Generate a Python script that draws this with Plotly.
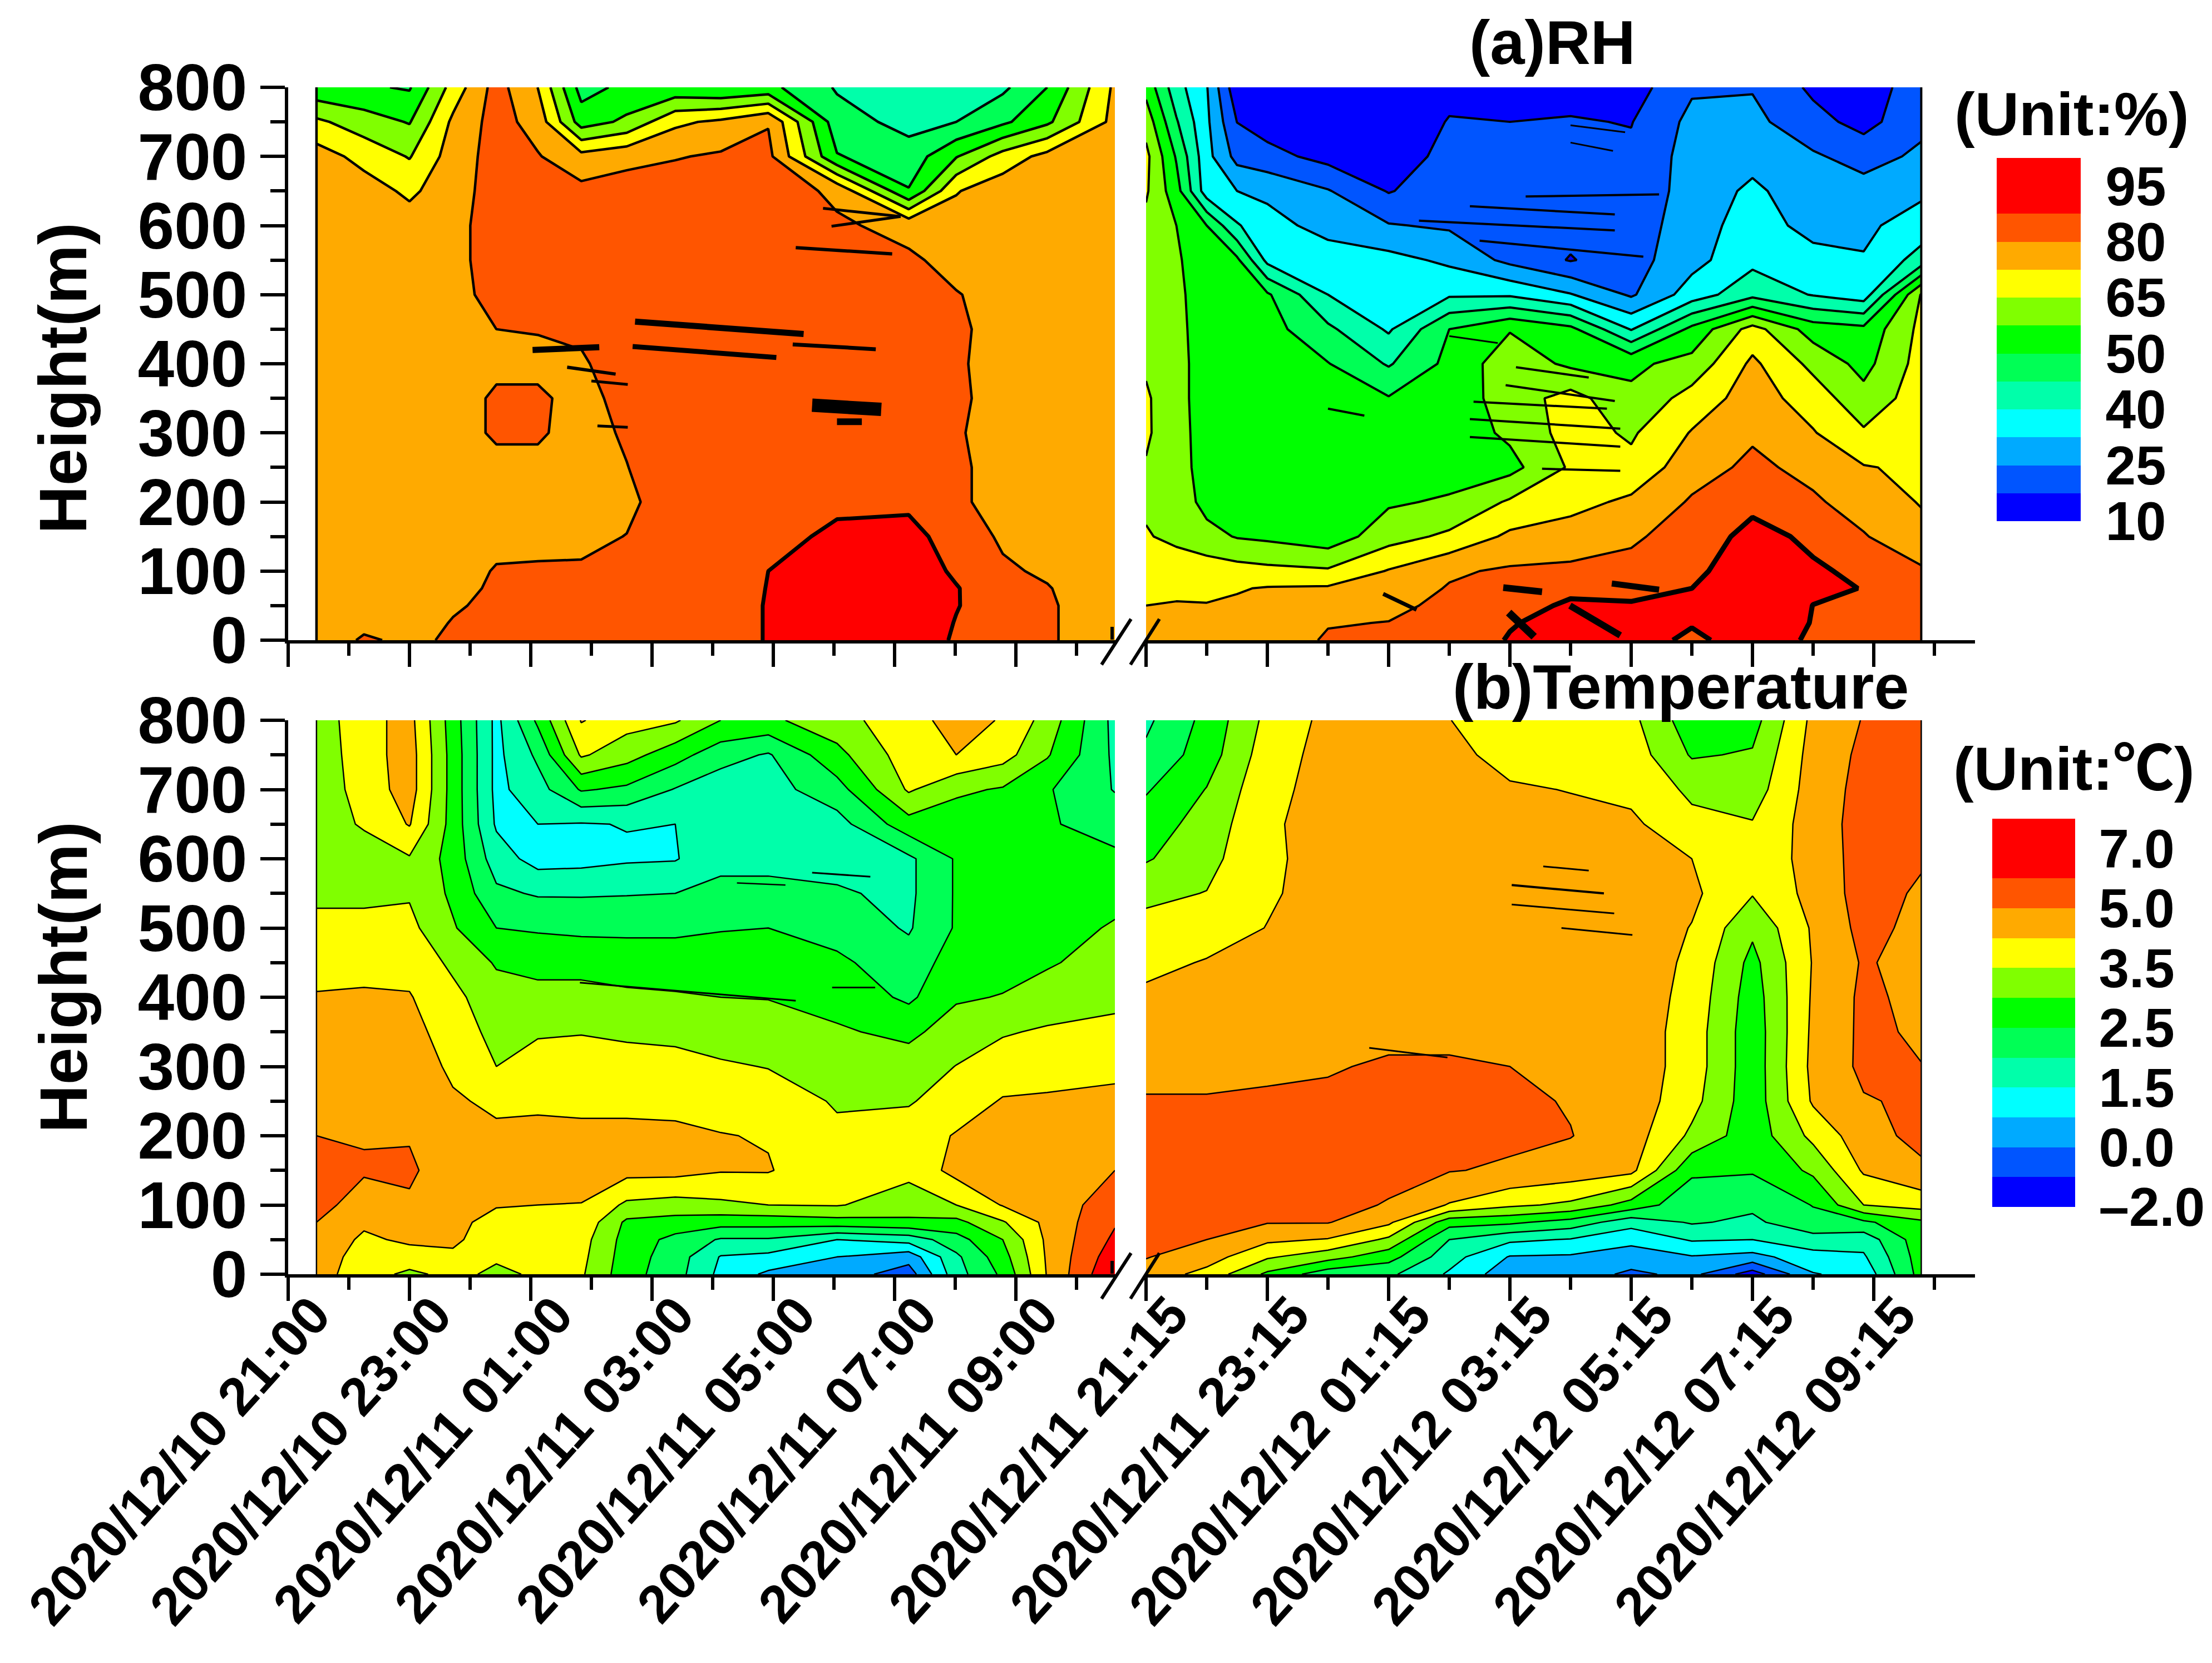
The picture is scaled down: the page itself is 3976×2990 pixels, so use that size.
import numpy as np
import pandas as pd
import plotly.graph_objects as go

W, H = 3976, 2990
FONT = "Liberation Sans, Noto Sans CJK SC"

heights = [0, 25, 50, 75, 100, 150, 200, 250, 300, 350, 400, 450, 500, 550, 600, 650, 700, 750, 800]

times_left = ["2020-12-10 21:28", "2020-12-10 22:15", "2020-12-10 23:00", "2020-12-10 23:43",
              "2020-12-11 00:26", "2020-12-11 01:07", "2020-12-11 01:50", "2020-12-11 02:35",
              "2020-12-11 03:23", "2020-12-11 04:08", "2020-12-11 04:55", "2020-12-11 06:03",
              "2020-12-11 07:14", "2020-12-11 08:01", "2020-12-11 08:47", "2020-12-11 09:31",
              "2020-12-11 10:38"]
times_right = ["2020-12-11 21:15", "2020-12-11 22:15", "2020-12-11 23:15", "2020-12-12 00:15",
               "2020-12-12 01:15", "2020-12-12 02:15", "2020-12-12 03:15", "2020-12-12 04:15",
               "2020-12-12 05:15", "2020-12-12 06:15", "2020-12-12 07:15", "2020-12-12 08:15",
               "2020-12-12 09:05", "2020-12-12 10:02"]
times_rh_right = ["2020-12-11 21:15", "2020-12-11 21:45", "2020-12-11 22:15", "2020-12-11 22:45",
                  "2020-12-11 23:15", "2020-12-12 00:15",
                  "2020-12-12 01:15", "2020-12-12 02:15", "2020-12-12 03:15", "2020-12-12 04:15",
                  "2020-12-12 05:15", "2020-12-12 06:15", "2020-12-12 07:15", "2020-12-12 08:15",
                  "2020-12-12 09:05", "2020-12-12 10:02"]

# one inner list per time, bottom (0 m) to top (800 m)
rh_left = [
    [75,75,75,75,75, 75,75,75,75,75, 75,75,75,75,75, 75,76,66.5,52],
    [81,78,77,77,77, 77,77,77,77,77, 77,77,77,77,77, 76,70,61,51],
    [78.5,76,76,76,76, 76,76,76,76,76, 76,76,76,76,76, 71,64.5,57,49.5],
    [81,80.5,79,77,77, 77,77,77,77,77, 77,78,78,78,78, 77,76,74,68],
    [83,83,82,81.5,80.5, 78,77,78,81,81, 78.5,80,82,83,83, 83,83,83,83],
    [84,84,84,83,80.8, 78,77,78,81,81, 78.5,80.3,82,83,83, 82,80.5,77,72.4],
    [85,85,84,83,81, 78,76,76,77,78, 79.3,81,83,84,84, 82,75,54,48],
    [86,85,85,84,83, 80.2,78,79.8,81,82, 83,84,84,85,85, 83,78,59,52],
    [86,86,86,85,85, 85,85,85,85,85, 85,85,85,85,85, 84,79.5,71,52],
    [86,86,86,86,86, 86,86,86,86,86, 86,86,86,86,86, 85,81,74,50],
    [87.7,87.7,87.7,87.6,87.5, 85,85,85,85,85, 85,85,85,85,85, 84,82,79.5,52],
    [95,95,95,94,93, 89,86,85,85,85, 85,85,85,84,81, 78.5,50.5,47,44.5],
    [95,95,95,94,93, 90,86,84,84,84, 84,84,83,81,78, 50.5,47,43.5,42],
    [86,87,88,88,86, 84,81,81,80.5,81, 80.7,81,80.3,78,76, 72,57,45,41],
    [83,83,82,81.5,81, 79,78,78,78,78, 78,78,78,77,77, 77,68,49,44],
    [81,81,81,80.4,79, 77,76,76,76,76, 76,76,76,76,76, 76,75,56,50],
    [75,75,75,75,75, 75,75,75,75,75, 75,75,75,75,74],
]
rh_left[-1] = [75,75,75,75,75, 75,75,75,75,75, 75,75,75,75,75, 75,75,75,74]
rh_right = [
    [76,74,72.5,71,69, 65.5,64,64.5,66,66, 64,61,60,61,63, 66,67,62,55],
    [75,74,73,71,68.5, 63.5,62,61,60.5,60, 60,59.5,59,58.5,57.5, 53,49.5,45.5,42],
    [73,73,72.8,71,69, 60,55,54,54,54, 54,54,54,53,50, 36,35,34,33],
    [74,74,73.5,72,68, 57,54.5,54,54,54, 54,54,53,51.5,40.5, 32.5,22.5,17.4,12],
    [75,75,74,73,67, 56,54,54,54,54, 53.5,53,51,38,35, 31,20,14,12],
    [81,79.5,77,73.5,66, 53,53,53,53,52.5, 50.3,46,40,36,30, 25.5,15,12,11],
    [82,80.2,78,76,73, 62,56.5,54,53,50.5, 44.5,39,37,35,25.5, 17,13,11,11],
    [83,83,82,80.5,79, 66.5,58.5,54,53,53, 52,50,39,31,24, 22,20,18,15],
    [88,87,85,83,81, 74,66,55,59,61, 62,57,39,23,20, 19,18,17.5,15],
    [92,90,88.5,86,81.5, 76,70,66,68,68, 56,52,33,17,20, 21,21,18,15],
    [93,90,88.3,85,82, 79,74,67,64,59, 56,39.5,24,22,21, 20,19,17.2,14],
    [85,88.5,89,87.5,85, 83,80.8,77,73,68, 60,52,36,30,29, 28,28,27,24],
    [93,95,95,95,94, 90,85.5,81.5,79,76, 74,68,43.5,38,36, 34,30,27,24.5],
    [86,87,87.4,89,88.5, 86,81,78,73,69, 63,54,39.5,35,30, 28,26,20,16],
    [83,84,85,87.3,86, 80.5,77,73,66,60, 55,52,36,33,31, 28,22,15,14],
    [83,83,83,82,81, 75,72,71,70,69, 68,67,65.5,42,36, 31,26.5,23,21],
]
temp_left = [
    [4.6,4.7,4.85,5.0,5.3, 5.3,5.0,4.9,4.7,4.5, 4.3,4.0,3.7,3.4,3.2, 3.2,3.2,3.2,3.2],
    [3.8,3.9,4.1,4.4,4.7, 5.1,4.95,4.8,4.7,4.5, 4.35,4.0,3.7,3.4,3.2, 3.6,3.8,3.9,4.0],
    [3.4,3.9,4.4,4.6,4.9, 5.15,4.95,4.8,4.7,4.5, 4.3,4.0,3.7,3.45,3.45, 4.3,4.6,4.6,4.5],
    [3.7,4.1,4.4,4.45,4.5, 4.6,4.6,4.35,4.1,3.9, 3.7,3.4,3.05,2.9,2.8, 2.8,2.8,2.8,2.75],
    [3.4,3.6,3.8,4.0,4.3, 4.5,4.4,4.1,3.5,3.35, 3.2,2.95,2.5,2.1,1.75, 1.4,1.3,1.3,1.3],
    [3.6,3.7,3.9,4.1,4.25, 4.5,4.4,4.15,3.8,3.45, 3.2,2.8,2.45,1.95,1.2, 1.5,1.8,2.1,2.6],
    [3.6,3.7,3.8,4.05,4.23, 4.55,4.4,4.1,3.8,3.48, 3.2,2.8,2.4,1.95,1.25, 1.45,2.55,3.6,4.3],
    [2.7,2.75,2.8,2.9,3.4, 4.5,4.4,4.1,3.85,3.4, 3.1,2.75,2.4,1.97,1.4, 1.52,2.4,3.2,3.8],
    [2.2,2.25,2.35,2.8,3.3, 4.5,4.4,4.05,3.8,3.35, 3.05,2.75,2.4,2.0,1.45, 1.5,1.97,2.7,3.6],
    [1.3,1.45,1.95,2.7,3.4, 4.3,4.28,3.95,3.6,3.25, 3.0,2.75,2.47,2.15,1.85, 1.75,1.7,2.2,3.0],
    [0.6,1.3,1.95,2.7,3.5, 4.3,4.2,3.9,3.48,3.25, 2.98,2.75,2.5,2.1,1.9, 1.85,1.8,1.95,2.9],
    [0.4,0.75,1.5,2.8,3.55, 3.7,3.65,3.45,3.2,3.05, 2.85,2.6,2.3,2.05,1.85, 1.8,2.3,2.85,3.3],
    [-0.5,0.3,1.7,2.9,3.25, 3.7,3.9,3.45,3.2,2.9, 2.4,2.2,1.95,1.9,1.9, 2.8,3.6,3.9,4.0],
    [1.8,1.9,2.3,2.85,3.5, 4.5,4.3,3.9,3.52,3.2, 2.95,2.75,2.55,2.55,2.55, 2.7,3.1,4.25,4.5],
    [2.6,2.8,3.0,3.45,4.3, 4.5,4.55,4.3,3.9,3.45, 3.02,2.85,2.7,2.65,2.65, 2.7,2.95,3.8,4.2],
    [4.3,4.35,4.4,4.45,4.5, 4.6,4.6,4.35,3.95,3.6, 3.2,2.95,2.8,2.7,2.65, 2.55,2.55,3.05,3.3],
    [7.0,6.6,6.2,5.9,5.6, 5.0,4.7,4.45,4.05,3.75, 3.35,3.2,3.05,2.85,2.6, 2.3,1.97,1.9,1.85],
]
temp_right = [
    [4.7,5.05,5.3,5.4,5.5, 5.5,5.4,5.05,4.85,4.7, 4.4,4.05,3.7,3.4,2.95, 2.75,2.45,2.1,1.9],
    [4.0,4.6,5.0,5.3,5.4, 5.4,5.3,5.05,4.85,4.7, 4.5,4.3,3.9,3.52,3.35, 3.2,3.02,2.75,2.65],
    [2.9,3.6,4.4,5.05,5.3, 5.35,5.3,5.1,4.9,4.7, 4.55,4.4,4.27,4.15,4.1, 4.15,4.05,3.9,3.7],
    [2.2,3.2,4.2,5.05,5.3, 5.4,5.3,5.15,4.95,4.8, 4.7,4.65,4.6,4.55,4.55, 4.5,4.5,4.5,4.45],
    [2.1,2.7,3.4,4.4,4.95, 5.3,5.3,5.25,5.1,4.85, 4.7,4.65,4.6,4.6,4.6, 4.6,4.6,4.6,4.6],
    [1.4,1.7,2.0,2.7,4.2, 5.05,5.3,5.25,5.1,4.85, 4.7,4.7,4.7,4.7,4.7, 4.7,4.6,4.5,4.27],
    [0.3,0.7,1.6,2.6,3.65, 4.9,5.2,5.2,5.0,4.85, 4.8,4.8,4.75,4.75,4.7, 4.6,4.35,3.95,3.7],
    [0.4,0.65,1.45,2.3,3.4, 4.7,5.03,4.95,4.85,4.8, 4.8,4.8,4.8,4.8,4.75, 4.5,4.22,3.85,3.75],
    [-0.2,0.4,0.95,1.7,2.8, 4.45,4.6,4.7,4.7,4.7, 4.7,4.7,4.7,4.7,4.7, 4.4,4.05,3.9,3.7],
    [0.2,0.7,1.55,2.05,2.15, 2.6,3.4,3.75,3.9,3.9, 4.0,4.1,4.22,4.4,4.25, 3.7,3.4,2.95,2.7],
    [-1.5,0.5,1.5,1.9,2.1, 2.55,2.7,2.7,2.7,2.7, 2.75,2.85,3.1,3.55,3.7, 3.55,3.25,3.05,2.8],
    [0.7,1.2,1.8,2.35,2.52, 3.1,3.7,4.35,4.45,4.4, 4.35,4.3,4.35,4.5,4.55, 4.6,4.6,4.55,4.45],
    [1.0,1.4,1.7,2.4,3.5, 4.35,4.7,4.95,5.2,5.2, 5.2,5.1,5.3,5.4,5.4, 5.4,5.3,5.2,5.05],
    [2.7,2.75,2.8,2.9,3.8, 4.85,5.3,5.15,5.02,4.9, 4.8,4.75,4.8,4.9,5.1, 5.3,5.4,5.5,5.5],
]

# thin noisy contour slivers: hours after axis start, height, hours, height, line width
rh_left_slivers = [
    (5.72,461,8.50,443,11),(5.68,425,8.05,409,9),(8.32,428,9.69,421,7),(8.64,340,9.78,334,24),
    (9.05,316,9.46,316,12),(4.03,420,5.13,424,11),(8.82,625,10.1,613,5),(10.1,613,8.96,599,5),
    (8.37,568,9.96,559,6),(4.6,395,5.4,385,6),(5.0,375,5.6,370,5),(5.1,310,5.6,308,5),
]
rh_right_slivers = [
    (5.34,628,7.73,616,4),(4.5,607,7.73,593,4),(6.26,642,8.46,645,4),(5.5,578,8.2,555,4),
    (5.93,369,7.73,346,4),(5.34,320,7.82,306,4),(5.34,294,7.82,280,4),(6.53,248,7.82,245,4),
    (5.89,76,6.53,70,12),(7.68,82,8.46,73,11),(3.91,67,4.46,44,7),(6.99,50,7.82,7,12),
    (5.98,40,6.4,5,14),(6.1,395,7.3,380,4),(5.4,345,7.6,335,4),(3.0,335,3.6,325,4),
    (5.0,440,5.8,430,3),(7.0,720,7.7,708,3),(7.0,745,7.9,735,3),
]
temp_left_slivers = [
    (4.81,421,8.37,395,3),(8.97,414,9.68,414,3),(8.64,580,9.6,574,3),(7.4,565,8.2,562,2.5),
]
temp_right_slivers = [
    (6.03,562,7.55,550,4),(6.03,534,7.72,521,3),(6.85,500,8.02,490,3),(6.55,589,7.3,583,3),
    (3.68,327,4.97,313,3),
]

rh_levels = [10, 17.5, 25, 32.5, 40, 45, 50, 57.5, 65, 72.5, 80, 87.5, 95]
temp_levels = [-2, -1, 0, 0.75, 1.5, 2, 2.5, 3, 3.5, 4.25, 5, 6, 7]
rh_labels = ["10", "25", "40", "50", "65", "80", "95"]
temp_labels = ["\u20132.0", "0.0", "1.5", "2.5", "3.5", "5.0", "7.0"]
band_colors = ["#0000FF", "#0055FF", "#00AAFF", "#00FFFF", "#00FFAA", "#00FF55",
               "#00FF00", "#80FF00", "#FFFF00", "#FFAA00", "#FF5500", "#FF0000"]

scale = []
for i, c in enumerate(band_colors):
    scale += [[i / 12, c], [(i + 1) / 12, c]]


def px(x):
    return x / W


def py(y):
    return 1 - y / H


fig = go.Figure()
TOP = (157, 1151)
BOT = (1295, 2291)
LEFT = (518, 2006)
RIGHT = (2060, 3550)
PPH = 109.0
start_l = pd.Timestamp("2020-12-10 21:00")
start_r = pd.Timestamp("2020-12-11 21:15")


def panel(values, levels, times, xa, ya, lw, thick, edge_x):
    z = np.interp(np.array(values, dtype=float).T, levels, np.arange(13))
    fig.add_trace(go.Contour(x=times, y=heights, z=z, xaxis=xa, yaxis=ya, autocontour=False,
                             contours=dict(coloring="fill", start=1, end=11, size=1, showlines=True),
                             line=dict(color="black", width=lw, smoothing=0),
                             colorscale=scale, zmin=0, zmax=12, showscale=False, hoverinfo="skip"))
    if thick:
        fig.add_trace(go.Contour(x=times, y=heights, z=z, xaxis=xa, yaxis=ya, autocontour=False,
                                 contours=dict(coloring="none", start=11, end=11, size=1, showlines=True),
                                 line=dict(color="black", width=thick, smoothing=0),
                                 showscale=False, hoverinfo="skip"))
    fig.add_trace(go.Scatter(x=[edge_x, edge_x], y=[0, 800], xaxis=xa, yaxis=ya, mode="lines",
                             line=dict(color="black", width=lw), hoverinfo="skip", showlegend=False))


def slivers(items, start, xa, ya):
    for h0, m0, h1, m1, w in items:
        fig.add_trace(go.Scatter(x=[start + pd.Timedelta(hours=h0), start + pd.Timedelta(hours=h1)],
                                 y=[m0, m1], xaxis=xa, yaxis=ya, mode="lines",
                                 line=dict(color="black", width=w), hoverinfo="skip", showlegend=False))


panel(rh_left, rh_levels, times_left, "x", "y", 4.5, 7, times_left[0])
slivers(rh_left_slivers, start_l, "x", "y")
panel(rh_right, rh_levels, times_rh_right, "x2", "y2", 4, 9, times_rh_right[-1])
slivers(rh_right_slivers, start_r, "x2", "y2")
panel(temp_left, temp_levels, times_left, "x3", "y3", 2.5, 0, times_left[0])
slivers(temp_left_slivers, start_l, "x3", "y3")
panel(temp_right, temp_levels, times_right, "x4", "y4", 2.5, 0, times_right[-1])
slivers(temp_right_slivers, start_r, "x4", "y4")


def xaxis(dom, start, anchor, labels):
    end = start + pd.Timedelta(hours=(dom[1] - dom[0]) / PPH)
    return dict(domain=[px(dom[0]), px(dom[1])], anchor=anchor, type="date", range=[start, end], automargin=False,
                tick0=start, dtick=7200000, tickformat="%Y/%m/%d %H:%M", showgrid=False, zeroline=False,
                showline=True, linewidth=6, linecolor="black", ticks="outside", ticklen=42, tickwidth=6,
                tickcolor="black", showticklabels=labels, tickangle=-48, ticklabeloverflow="allow",
                ticklabelstandoff=-70, ticklabelshift=45,
                tickfont=dict(family=FONT, size=96, color="black", weight=700),
                minor=dict(dtick=3600000, tick0=start, ticks="outside", ticklen=22, tickwidth=6,
                           tickcolor="black", showgrid=False))


def yaxis(dom, anchor, shown):
    return dict(domain=[py(dom[1]), py(dom[0])], anchor=anchor, range=[0, 800], showgrid=False, zeroline=False,
                automargin=False, visible=shown, showline=True, linewidth=6, linecolor="black", ticks="outside",
                ticklen=44, tickwidth=6, tickcolor="black", tickvals=list(range(0, 801, 100)),
                tickfont=dict(family=FONT, size=118, color="black", weight=700),
                minor=dict(tickvals=list(range(50, 800, 100)), ticks="outside", ticklen=26, tickwidth=6,
                           tickcolor="black", showgrid=False))


def bar_axes(xdom, ydom, labels, anchor, gap):
    xa = dict(domain=[px(xdom[0]), px(xdom[1])], anchor=anchor, visible=False, range=[0, 1], automargin=False)
    ya = dict(domain=[py(ydom[1]), py(ydom[0])], anchor="free", position=px(xdom[1]), side="right",
              range=[0, 13], showgrid=False, zeroline=False, showline=False, ticks="outside", ticklen=gap,
              automargin=False, tickcolor="rgba(0,0,0,0)", tickvals=list(range(0, 13, 2)), ticktext=labels,
              ticklabeloverflow="allow", tickfont=dict(family=FONT, size=98, color="black", weight=700))
    return xa, ya


bands = [0, 1, 2, 3, 4, 5, 6, 7, 8, 9, 10, 11, 11]
band_y = [b + 0.5 for b in range(13)]
fig.add_trace(go.Heatmap(x=[0.5], y=band_y, z=[[b] for b in bands], xaxis="x5", yaxis="y5", zmin=-0.5, zmax=11.5,
                         colorscale=scale, showscale=False, hoverinfo="skip"))
fig.add_trace(go.Heatmap(x=[0.5], y=band_y, z=[[b] for b in bands], xaxis="x6", yaxis="y6", zmin=-0.5, zmax=11.5,
                         colorscale=scale, showscale=False, hoverinfo="skip"))

x5, y5 = bar_axes((3589, 3740), (284, 937), rh_labels, "y5", 24)
x6, y6 = bar_axes((3581, 3730), (1472, 2170), temp_labels, "y6", 22)

shapes = []
for dy in (0, 1140):
    for x0, y0, x1, y1 in ((1980, 1195, 2033, 1113), (2032, 1195, 2084, 1113), (1999, 1127, 1999, 1150)):
        shapes.append(dict(type="line", xref="paper", yref="paper", x0=px(x0), y0=py(y0 + dy), x1=px(x1), y1=py(y1 + dy),
                           line=dict(color="black", width=6)))


def note(text, x, y, size, angle=0):
    return dict(text=text, x=px(x), y=py(y), xref="paper", yref="paper", showarrow=False, textangle=angle,
                xanchor="center", yanchor="middle", font=dict(family=FONT, size=size, color="black", weight=700))


notes = [
    note("Height(m)", 114, 680, 120, -90),
    note("Height(m)", 114, 1757, 120, -90),
    note("(a)RH", 2790, 76, 112),
    note("(b)Temperature", 3021, 1235, 113),
    note("(Unit:%)", 3724, 205, 110),
    note("(Unit:\u2103)", 3728, 1381, 110),
]

fig.update_layout(
    width=W, height=H, autosize=False, margin=dict(l=0, r=0, t=0, b=0, autoexpand=False),
    paper_bgcolor="white", plot_bgcolor="white",
    showlegend=False, shapes=shapes, annotations=notes,
    xaxis=xaxis(LEFT, start_l, "y", False), yaxis=yaxis(TOP, "x", True),
    xaxis2=xaxis(RIGHT, start_r, "y2", False), yaxis2=yaxis(TOP, "x2", False),
    xaxis3=xaxis(LEFT, start_l, "y3", True), yaxis3=yaxis(BOT, "x3", True),
    xaxis4=xaxis(RIGHT, start_r, "y4", True), yaxis4=yaxis(BOT, "x4", False),
    xaxis5=x5, yaxis5=y5, xaxis6=x6, yaxis6=y6,
)
fig.write_html("out.html", post_script="document.body.style.margin='0';", config=dict(displayModeBar=False))
